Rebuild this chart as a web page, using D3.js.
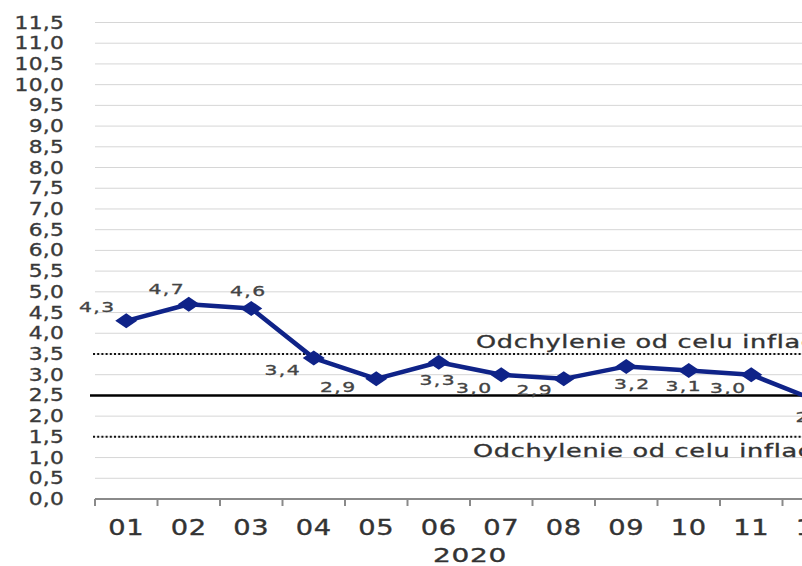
<!DOCTYPE html>
<html><head><meta charset="utf-8">
<script src="https://cdn.jsdelivr.net/npm/d3@7"></script>
<style>html,body{margin:0;padding:0;background:#fff;overflow:hidden}</style>
</head><body>
<svg id="c" width="802" height="566"></svg>
<script>
const months = ["01","02","03","04","05","06","07","08","09","10","11","12"];
const cpi = [4.3,4.7,4.6,3.4,2.9,3.3,3.0,2.9,3.2,3.1,3.0,2.4];
const yearLabel = "2020";
const yTicks = d3.range(0, 23.5).map(i => i * 0.5);
const target = 2.5;
const bandLines = [3.5, 1.5];
const bandText = "Odchylenie od celu inflacyjnego";
// label offsets (layout only)
const labelOffsets = [[-29,-9],[-22,-10],[-3,-12],[-31,17],[-38,13],[-1,23],[-27,18],[-29,16],[6,23],[-5,20],[-23,18],[0,22]];

const svg = d3.select("#c");
const FONT = "DejaVu Sans, Verdana, sans-serif";
const x = d3.scaleBand().domain(months).range([95, 845]).padding(0);
const y = d3.scaleLinear().domain([0, 11.5]).range([499, 22.5]);
const fmt = v => d3.format(".1f")(v).replace(".", ",");
const RIGHT = 880;

function stext(g, tx, ty, str, size, sx, anchor, fill, ls) {
  return g.append("text")
    .attr("transform", `translate(${tx},${ty}) scale(${sx},1)`)
    .attr("text-anchor", anchor)
    .attr("font-family", FONT)
    .attr("font-size", size)
    .attr("letter-spacing", ls || 0)
    .attr("fill", fill)
    .attr("stroke", fill).attr("stroke-width", 0.35)
    .text(str);
}

// gridlines
svg.append("g").selectAll("line").data(yTicks.filter(d => d > 0)).join("line")
  .attr("x1", 95).attr("x2", RIGHT)
  .attr("y1", d => y(d)).attr("y2", d => y(d))
  .attr("stroke", "#d6d6d6").attr("stroke-width", 1);

// y labels
const yl = svg.append("g");
yTicks.forEach(v => stext(yl, 64, y(v) + 6, fmt(v), 17, 1.28, "end", "#3a3a3a", 0.2));

// x axis baseline and ticks
svg.append("line").attr("x1", 95).attr("x2", RIGHT).attr("y1", y(0)).attr("y2", y(0))
  .attr("stroke", "#8a8a8a").attr("stroke-width", 2);
const bounds = months.map(m => x(m));
svg.append("g").selectAll("line").data(bounds).join("line")
  .attr("x1", d => d).attr("x2", d => d)
  .attr("y1", y(0)).attr("y2", y(0) + 7)
  .attr("stroke", "#8a8a8a").attr("stroke-width", 2);

// x labels
const xl = svg.append("g");
months.forEach(m => stext(xl, x(m) + x.bandwidth() / 2, 535, m, 21, 1.3, "middle", "#333", 0.5));
stext(xl, (x.range()[0] + x.range()[1]) / 2, 562, yearLabel, 20, 1.4, "middle", "#333", 0.5);

// band lines (dotted)
svg.append("g").selectAll("line").data(bandLines).join("line")
  .attr("x1", 93).attr("x2", RIGHT)
  .attr("y1", d => y(d)).attr("y2", d => y(d))
  .attr("stroke", "#111").attr("stroke-width", 2).attr("stroke-dasharray", "2,2.2");
// target line
svg.append("line").attr("x1", 90).attr("x2", RIGHT).attr("y1", y(target)).attr("y2", y(target))
  .attr("stroke", "#000").attr("stroke-width", 2.5);

// band texts
const bt = svg.append("g");
stext(bt, 476, y(bandLines[0]) - 6, bandText, 18, 1.42, "start", "#333", 0.5);
stext(bt, 473, y(bandLines[1]) + 20, bandText, 18, 1.42, "start", "#333", 0.5);

// line
const cx = (d, i) => x(months[i]) + x.bandwidth() / 2;
svg.append("path").datum(cpi)
  .attr("d", d3.line().x(cx).y(d => y(d)))
  .attr("fill", "none").attr("stroke", "#0f2388").attr("stroke-width", 4.5)
  .attr("stroke-linejoin", "round");
svg.append("g").selectAll("path").data(cpi).join("path")
  .attr("transform", (d, i) => `translate(${cx(d, i)},${y(d)})`)
  .attr("d", "M-11,0L0,-7.5L11,0L0,7.5Z")
  .attr("fill", "#0f2388");

// data labels
const dl = svg.append("g");
cpi.forEach((v, i) => {
  const o = labelOffsets[i];
  stext(dl, cx(v, i) + o[0], y(v) + o[1], fmt(v), 14.5, 1.4, "middle", "#444", 1);
});
</script>
</body></html>
